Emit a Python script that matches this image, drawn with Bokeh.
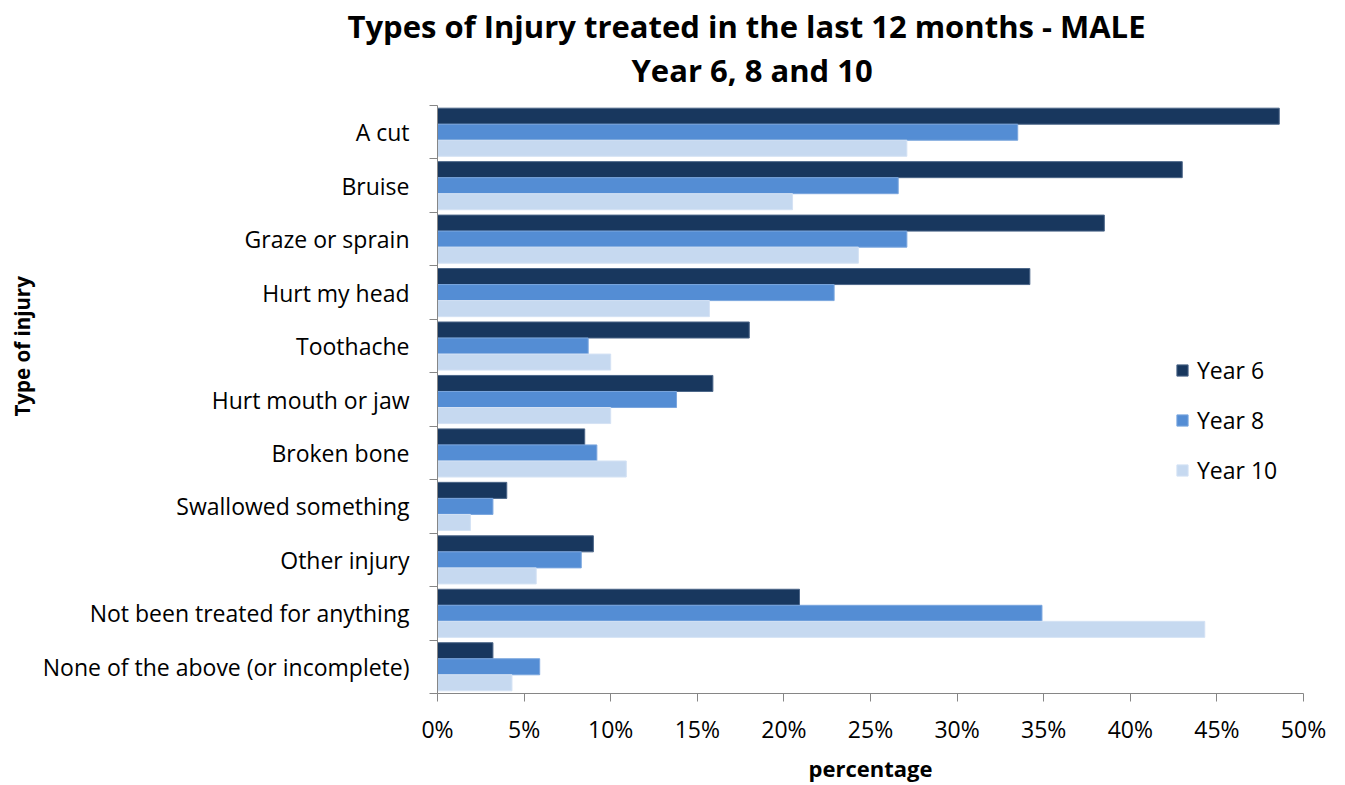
from bokeh.plotting import figure
from bokeh.models import (ColumnDataSource, Range1d, FixedTicker, Legend,
                          LegendItem, PrintfTickFormatter, Title)
from bokeh.embed import file_html
from bokeh.resources import INLINE

categories = ["A cut", "Bruise", "Graze or sprain", "Hurt my head", "Toothache",
              "Hurt mouth or jaw", "Broken bone", "Swallowed something",
              "Other injury", "Not been treated for anything",
              "None of the above (or incomplete)"]
year6 = [48.6, 43.0, 38.5, 34.2, 18.0, 15.9, 8.5, 4.0, 9.0, 20.9, 3.2]
year8 = [33.5, 26.6, 27.1, 22.9, 8.7, 13.8, 9.2, 3.2, 8.3, 34.9, 5.9]
year10 = [27.1, 20.5, 24.3, 15.7, 10.0, 10.0, 10.9, 1.9, 5.7, 44.3, 4.3]
series_names = ["Year 6", "Year 8", "Year 10"]
x_ticks = [0, 5, 10, 15, 20, 25, 30, 35, 40, 45, 50]

colors = ["#18375E", "#548DD4", "#C6D9F0"]
edges = ["#4C6688", "#7AA6DE", "#D4E2F4"]
FONT = "Open Sans"

n = len(categories)
centers = [n - 1 - i + 0.5 for i in range(n)]

p = figure(width=1329, height=785, output_backend="svg", toolbar_location=None,
           title=None, x_range=Range1d(0, 50), y_range=Range1d(0, n),
           min_border_left=437, min_border_right=26, min_border_top=105,
           min_border_bottom=91)
p.outline_line_color = None
p.grid.grid_line_color = None

offsets = [0.3, 0.0, -0.3]
renderers = []
for vals, off, c, e in zip([year6, year8, year10], offsets, colors, edges):
    src = ColumnDataSource(dict(y=[cy + off for cy in centers], right=vals))
    r = p.hbar(y="y", right="right", left=0, height=0.3, source=src,
               fill_color=c, line_color=e, line_width=1)
    renderers.append(r)

# x axis
xa = p.xaxis[0]
xa.ticker = FixedTicker(ticks=x_ticks, minor_ticks=[])
xa.formatter = PrintfTickFormatter(format="%d%%")
xa.axis_line_color = "#868686"
xa.major_tick_line_color = "#868686"
xa.major_tick_in = 0
xa.major_tick_out = 8
xa.minor_tick_line_color = None
xa.major_label_text_font = FONT
xa.major_label_text_font_size = "23px"
xa.major_label_text_color = "#000000"
xa.major_label_standoff = 11
xa.axis_label = "percentage"
xa.axis_label_text_font = FONT
xa.axis_label_text_font_size = "22px"
xa.axis_label_text_font_style = "bold"
xa.axis_label_text_color = "#000000"
xa.axis_label_standoff = 5

# y axis
ya = p.yaxis[0]
ya.ticker = FixedTicker(ticks=centers, minor_ticks=list(range(n + 1)))
ya.major_label_overrides = {c: cat for c, cat in zip(centers, categories)}
ya.axis_line_color = "#868686"
ya.major_tick_line_color = None
ya.major_tick_in = 0
ya.major_tick_out = 0
ya.minor_tick_line_color = "#868686"
ya.minor_tick_in = 0
ya.minor_tick_out = 8
ya.major_label_text_font = FONT
ya.major_label_text_font_size = "23px"
ya.major_label_text_color = "#000000"
ya.major_label_standoff = 20

# spacer between plot frame and the title lines
p.add_layout(Title(text=" ", text_font_size="1px", standoff=12), "above")
# titles (line 2 closest to the plot, line 1 above it)
p.add_layout(Title(text="Year 6, 8 and 10", align="left", offset=194,
                   text_font=FONT, text_font_size="31px", text_font_style="bold",
                   text_color="#000000", standoff=0), "above")
p.add_layout(Title(text="Types of Injury treated in the last 12 months - MALE",
                   align="left", offset=-90, text_font=FONT, text_font_size="31px",
                   text_font_style="bold", text_color="#000000", standoff=0), "above")
p.add_layout(Title(text="Type of injury", align="left", offset=277,
                   text_font=FONT, text_font_size="20.5px", text_font_style="bold",
                   text_color="#000000", standoff=8), "left")

legend = Legend(items=[LegendItem(label=nm, renderers=[r])
                       for nm, r in zip(series_names, renderers)],
                location=(738, 207), padding=0, margin=0, spacing=18,
                glyph_width=14, glyph_height=14, label_standoff=8,
                label_text_font=FONT, label_text_font_size="23px",
                label_text_color="#000000", border_line_color=None,
                background_fill_alpha=0)
p.add_layout(legend)

open("out.html", "w").write(file_html(p, INLINE))
